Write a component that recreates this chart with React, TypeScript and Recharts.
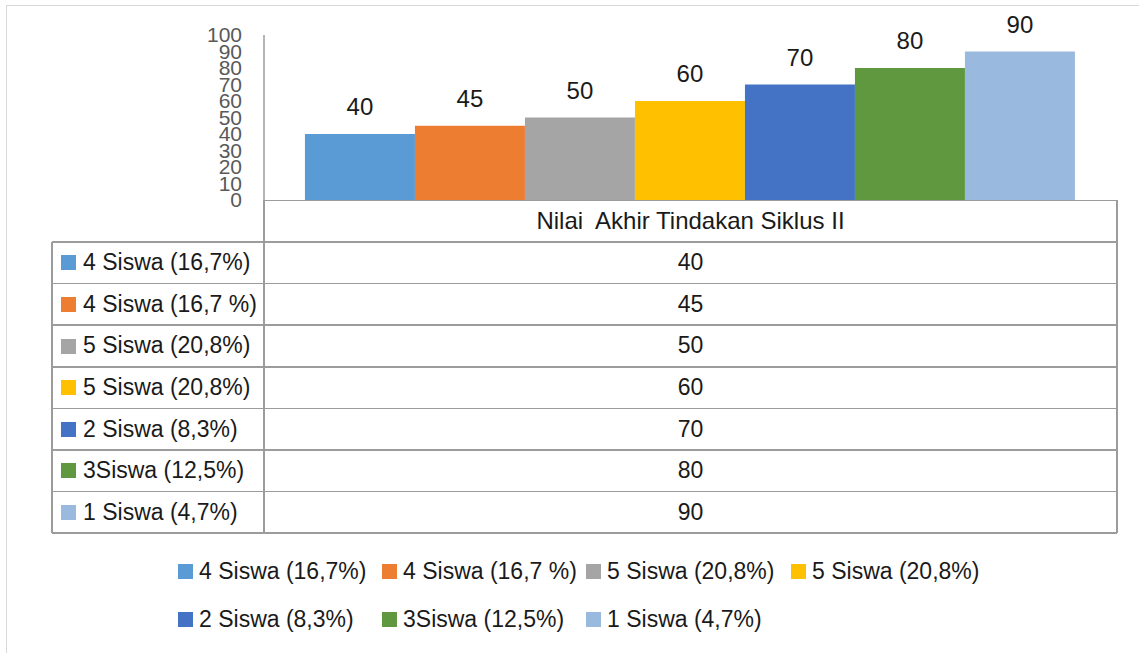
import React from 'react';
import { BarChart, Bar, XAxis, YAxis, LabelList } from 'recharts';

const categories = ['Nilai  Akhir Tindakan Siklus II'];
const seriesNames = ['4 Siswa (16,7%)', '4 Siswa (16,7 %)', '5 Siswa (20,8%)', '5 Siswa (20,8%)', '2 Siswa (8,3%)', '3Siswa (12,5%)', '1 Siswa (4,7%)'];
const seriesValues = [40, 45, 50, 60, 70, 80, 90];
const seriesColors = ['#5B9BD5', '#ED7D31', '#A5A5A5', '#FFC000', '#4472C4', '#60983F', '#99B9DF'];
const yTicks = [0, 10, 20, 30, 40, 50, 60, 70, 80, 90, 100];

const FONT = '"Liberation Sans", Arial, sans-serif';
const LINE = '#9c9c9c';
const TEXT = '#1a1a1a';

// table geometry
const tableLeft = 52;
const splitX = 264;
const tableRight = 1117;
const headTop = 200;
const bodyTop = 242;
const rowH = 41.6;

// legend columns under the table
const legendCols = [178, 382, 586, 791];

const chartData = categories.map((name) => {
    const row: Record<string, string | number> = { name };
    seriesValues.forEach((v, i) => { row[`s${i}`] = v; });
    return row;
});

const Swatch: React.FC<{ color: string; left: number; top: number }> = ({ color, left, top }) => (
    <div style={{ position: 'absolute', left, top, width: 15, height: 15, background: color }} />
);

const App: React.FC = () => {
    const bodyBottom = bodyTop + rowH * seriesNames.length;

    return (
        <div style={{ position: 'absolute', left: 0, top: 0, width: 1139, height: 653, overflow: 'hidden', background: '#fff', fontFamily: FONT }}>
            {/* outer chart frame */}
            <div style={{ position: 'absolute', left: 6, top: 5, width: 1300, height: 800, border: '1.5px solid #d9d9d9' }} />

            <div style={{ position: 'absolute', left: 0, top: 0 }}>
                <BarChart
                    width={1139}
                    height={210}
                    data={chartData}
                    margin={{ top: 35, right: 1139 - tableRight, left: splitX - 60, bottom: 10 }}
                    barCategoryGap="4.8%"
                    barGap={0}
                >
                    <XAxis dataKey="name" hide />
                    <YAxis
                        width={60}
                        domain={[0, 100]}
                        ticks={yTicks}
                        interval={0}
                        tickLine={false}
                        tickSize={20}
                        tickMargin={2}
                        axisLine={{ stroke: LINE, strokeWidth: 1.5 }}
                        tick={{ fill: '#595959', fontSize: 21, fontFamily: FONT }}
                    />
                    {seriesValues.map((_, i) => (
                        <Bar key={i} dataKey={`s${i}`} name={seriesNames[i]} fill={seriesColors[i]} isAnimationActive={false}>
                            <LabelList dataKey={`s${i}`} position="top" offset={19} fill={TEXT} fontSize={24} fontFamily={FONT} />
                        </Bar>
                    ))}
                </BarChart>
            </div>

            {/* data table */}
            <div style={{ position: 'absolute', left: splitX, top: headTop, width: tableRight - splitX, height: bodyTop - headTop, borderTop: `1.5px solid ${LINE}`, boxSizing: 'border-box' }} />
            <div style={{ position: 'absolute', left: splitX, top: headTop, width: tableRight - splitX, height: bodyTop - headTop, display: 'flex', alignItems: 'center', justifyContent: 'center', fontSize: 24, color: TEXT, whiteSpace: 'pre' }}>
                {categories[0]}
            </div>
            <div style={{ position: 'absolute', left: splitX - 0.75, top: headTop, width: 1.5, height: bodyBottom - headTop, background: LINE }} />
            <div style={{ position: 'absolute', left: tableRight - 0.75, top: headTop, width: 1.5, height: bodyBottom - headTop, background: LINE }} />
            <div style={{ position: 'absolute', left: tableLeft - 0.75, top: bodyTop, width: 1.5, height: bodyBottom - bodyTop, background: LINE }} />
            {seriesNames.map((name, i) => {
                const top = bodyTop + i * rowH;
                return (
                    <React.Fragment key={i}>
                        <div style={{ position: 'absolute', left: tableLeft, top: top - 0.75, width: tableRight - tableLeft, height: 1.5, background: LINE }} />
                        <Swatch color={seriesColors[i]} left={61} top={top + rowH / 2 - 7.5} />
                        <div style={{ position: 'absolute', left: 83, top, height: rowH, display: 'flex', alignItems: 'center', fontSize: 23, color: TEXT, whiteSpace: 'pre' }}>
                            {name}
                        </div>
                        <div style={{ position: 'absolute', left: splitX, top, width: tableRight - splitX, height: rowH, display: 'flex', alignItems: 'center', justifyContent: 'center', fontSize: 23, color: TEXT }}>
                            {seriesValues[i]}
                        </div>
                    </React.Fragment>
                );
            })}
            <div style={{ position: 'absolute', left: tableLeft, top: bodyBottom - 0.75, width: tableRight - tableLeft, height: 1.5, background: LINE }} />

            {/* legend */}
            {seriesNames.map((name, i) => {
                const rowIdx = i < 4 ? 0 : 1;
                const col = i < 4 ? i : i - 4;
                const cy = rowIdx === 0 ? 571 : 619;
                const x = legendCols[col];
                return (
                    <React.Fragment key={`lg${i}`}>
                        <Swatch color={seriesColors[i]} left={x} top={cy - 7.5} />
                        <div style={{ position: 'absolute', left: x + 21, top: cy - 15, height: 30, display: 'flex', alignItems: 'center', fontSize: 23, color: TEXT, whiteSpace: 'pre' }}>
                            {name}
                        </div>
                    </React.Fragment>
                );
            })}
        </div>
    );
};

export default App;
